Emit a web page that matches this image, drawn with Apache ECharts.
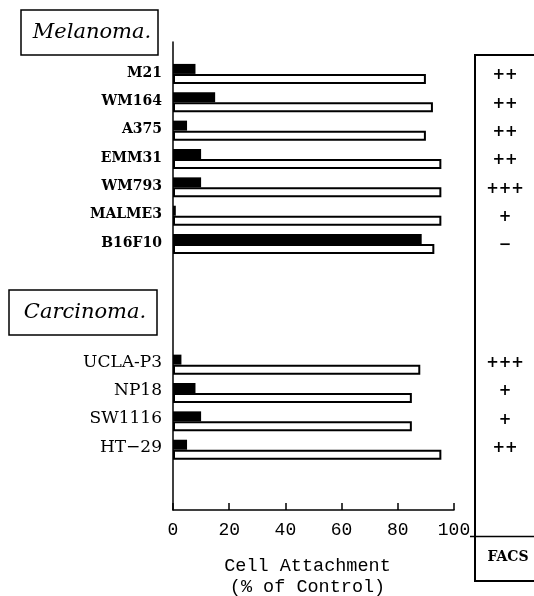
<!DOCTYPE html>
<html>
<head>
<meta charset="utf-8">
<script src="https://cdn.jsdelivr.net/npm/echarts@6/dist/echarts.min.js"></script>
<style>
  html, body { margin: 0; padding: 0; background: #fff; }
  #chart { width: 534px; height: 596px; }
</style>
</head>
<body>
<div id="chart"></div>
<script>
// Cell attachment (% of control) per cell line: black = with antibody, white = control
const melanomaLines = ['M21', 'WM164', 'A375', 'EMM31', 'WM793', 'MALME3', 'B16F10'];
const melanomaBlack = [8, 15, 5, 10, 10, 1, 88.5];
const melanomaWhite = [90, 92.5, 90, 95.5, 95.5, 95.5, 93];
const melanomaFacs  = ['++', '++', '++', '++', '+++', '+', '\u2212'];

const carcinomaLines = ['UCLA-P3', 'NP18', 'SW1116', 'HT\u221229'];
const carcinomaBlack = [3, 8, 10, 5];
const carcinomaWhite = [88, 85, 85, 95.5];
const carcinomaFacs  = ['+++', '+', '+', '++'];

const xTicks = { min: 0, max: 100, interval: 20 };

// Rows on the category axis, separated by quarter-row spacer slots
const SLOTS = 66;
const rowNames = [], rowGroup = [], blackVals = [], whiteVals = [], facsVals = [];
function addBlank(n) {
  for (let i = 0; i < n; i++) {
    rowNames.push(''); rowGroup.push(null);
    blackVals.push('-'); whiteVals.push('-'); facsVals.push('');
  }
}
function addRows(names, black, white, facs, group) {
  names.forEach((n, i) => {
    rowNames.push(n); rowGroup.push(group);
    blackVals.push(black[i]); whiteVals.push(white[i]); facsVals.push(facs[i]);
    addBlank(3);
  });
}
addBlank(4);
addRows(melanomaLines, melanomaBlack, melanomaWhite, melanomaFacs, 'mel');
addBlank(13);
addRows(carcinomaLines, carcinomaBlack, carcinomaWhite, carcinomaFacs, 'car');
addBlank(SLOTS - rowNames.length);

const chart = echarts.init(document.getElementById('chart'), null, { renderer: 'canvas' });

chart.setOption({
  animation: false,
  backgroundColor: '#fff',
  grid: { left: 173, right: 80, top: 42, bottom: 86, containLabel: false, outerBoundsMode: 'none' },
  xAxis: {
    type: 'value',
    min: xTicks.min, max: xTicks.max, interval: xTicks.interval,
    axisLine: { show: true, lineStyle: { color: '#000', width: 1.5 } },
    axisTick: { show: true, inside: true, length: 7, lineStyle: { color: '#000', width: 1.5 } },
    splitLine: { show: false },
    axisLabel: { color: '#000', fontFamily: 'Liberation Mono', fontSize: 18, margin: 11 },
    name: 'Cell Attachment\n(% of Control)',
    nameLocation: 'middle',
    nameGap: 46,
    nameTextStyle: { color: '#000', fontFamily: 'Liberation Mono', fontSize: 18.5, lineHeight: 21, padding: [0, 12, 0, 0] }
  },
  yAxis: [
    {
      type: 'category',
      inverse: true,
      data: rowNames,
      axisLine: { show: true, lineStyle: { color: '#000', width: 1.5 } },
      axisTick: { show: false },
      splitLine: { show: false },
      axisLabel: {
        interval: 0,
        margin: 11,
        color: '#000',
        formatter: (v, idx) => {
          if (!v) return '';
          return rowGroup[idx] === 'car' ? '{car|' + v + '}' : '{mel|' + v + '}';
        },
        rich: {
          mel: { fontFamily: 'DejaVu Serif', fontWeight: 'bold', fontSize: 14, color: '#000', padding: [0, 0, 2, 0] },
          car: { fontFamily: 'DejaVu Serif', fontSize: 17, color: '#000', padding: [0, 0, 5, 0] }
        }
      }
    },
    {
      type: 'category',
      inverse: true,
      position: 'right',
      data: rowNames,
      axisLine: { show: false },
      axisTick: { show: false },
      splitLine: { show: false },
      axisLabel: {
        interval: 0,
        margin: 51,
        align: 'center',
        color: '#000',
        formatter: (v, idx) => {
          const f = facsVals[idx];
          if (!f) return '';
          return rowGroup[idx] === 'car' ? '{car|' + f + '}' : '{mel|' + f + '}';
        },
        rich: {
          mel: { fontFamily: 'DejaVu Sans', fontWeight: 'bold', fontSize: 15, color: '#000', padding: [3, 0, 0, 0] },
          car: { fontFamily: 'DejaVu Sans', fontWeight: 'bold', fontSize: 15, color: '#000', padding: [0, 0, 3, 0] }
        }
      }
    }
  ],
  series: [
    {
      type: 'bar',
      name: 'antibody',
      yAxisIndex: 0,
      data: blackVals,
      barWidth: 10,
      barGap: '0%',
      itemStyle: { color: '#000' }
    },
    {
      type: 'bar',
      name: 'control',
      yAxisIndex: 0,
      data: whiteVals,
      barWidth: 10,
      barGap: '0%',
      itemStyle: { color: '#fff', borderColor: '#000', borderWidth: 2 }
    }
  ],
  graphic: [
    { type: 'rect', shape: { x: 21, y: 10, width: 137, height: 45 },
      style: { fill: '#fff', stroke: '#000', lineWidth: 1.5 } },
    { type: 'text', x: 92, y: 33,
      style: { text: 'Melanoma.', font: 'italic 21px "DejaVu Serif"', fill: '#000', textAlign: 'center', textVerticalAlign: 'middle' } },
    { type: 'rect', shape: { x: 9, y: 290, width: 148, height: 45 },
      style: { fill: '#fff', stroke: '#000', lineWidth: 1.5 } },
    { type: 'text', x: 85, y: 313,
      style: { text: 'Carcinoma.', font: 'italic 21px "DejaVu Serif"', fill: '#000', textAlign: 'center', textVerticalAlign: 'middle' } },
    { type: 'rect', shape: { x: 475, y: 55, width: 80, height: 526 },
      style: { fill: 'none', stroke: '#000', lineWidth: 2 } },
    { type: 'line', shape: { x1: 470, y1: 536.5, x2: 534, y2: 536.5 },
      style: { stroke: '#000', lineWidth: 1.5 } },
    { type: 'text', x: 508, y: 557,
      style: { text: 'FACS', font: 'bold 14px "DejaVu Serif"', fill: '#000', textAlign: 'center', textVerticalAlign: 'middle' } }
  ]
});
</script>
</body>
</html>
